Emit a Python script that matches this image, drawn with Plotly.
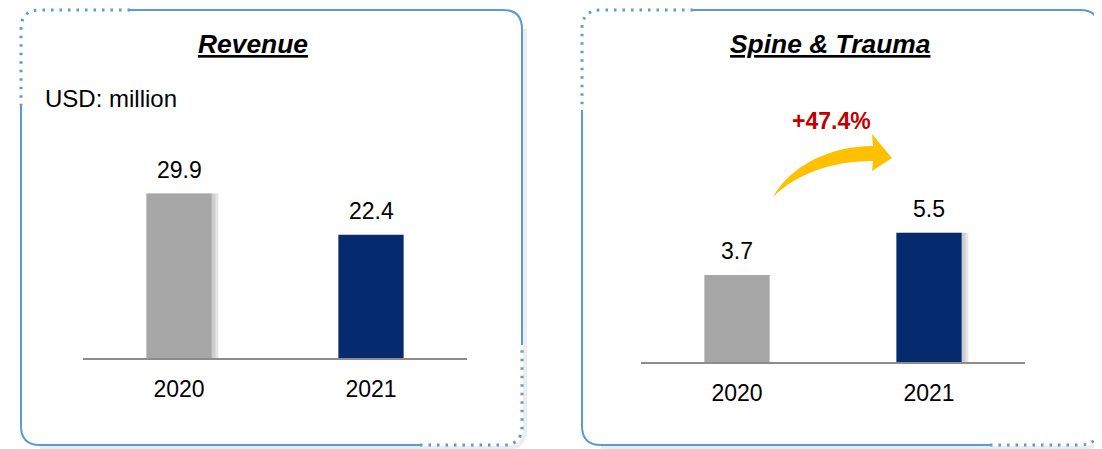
import plotly.graph_objects as go

# ---- data ----
years = ["2020", "2021"]
revenue = [29.9, 22.4]
spine_trauma = [3.7, 5.5]
bar_colors = ["#A6A6A6", "#052A6E"]
growth_label = "+47.4%"
titles = ["Revenue", "Spine & Trauma"]
unit_label = "USD: million"

# page body has an 8px default margin; size the figure to fill the rest of the window
OFF = 8
W, H = 1102 - OFF, 449 - OFF
FONT = "Liberation Sans, Arial, sans-serif"


def px(x):
    return (x - OFF) / W


def py(y):
    return 1 - (y - OFF) / H


def path(cmds):
    out = []
    for c in cmds:
        if c[0] == "Q":
            out.append("Q%.5f,%.5f %.5f,%.5f" % (px(c[1]), py(c[2]), px(c[3]), py(c[4])))
        elif c[0] == "C":
            out.append("C%.5f,%.5f %.5f,%.5f %.5f,%.5f" % (px(c[1]), py(c[2]), px(c[3]), py(c[4]), px(c[5]), py(c[6])))
        elif c[0] == "Z":
            out.append("Z")
        else:
            out.append("%s%.5f,%.5f" % (c[0], px(c[1]), py(c[2])))
    return " ".join(out)


fig = go.Figure()

# soft drop shadows (2020 bar on the left panel, 2021 bar on the right panel)
shadow_left = ["rgba(0,0,0,0.10)", "rgba(0,0,0,0)"]
shadow_right = ["rgba(0,0,0,0)", "rgba(0,0,0,0.10)"]
for k, (xa, ya, vals, sc) in enumerate((("x", "y", revenue, shadow_left), ("x2", "y2", spine_trauma, shadow_right))):
    for sh in (0.02, 0.035):
        fig.add_trace(go.Bar(x=years, y=vals, marker=dict(color=sc, line=dict(width=0)),
                             width=0.34, offset=-0.17 + sh, xaxis=xa, yaxis=ya,
                             showlegend=False, hoverinfo="skip"))

fig.add_trace(go.Bar(x=years, y=revenue, marker=dict(color=bar_colors, line=dict(width=0)),
                     width=0.34, offset=-0.17, xaxis="x", yaxis="y", showlegend=False, hoverinfo="skip"))
fig.add_trace(go.Bar(x=years, y=spine_trauma, marker=dict(color=bar_colors, line=dict(width=0)),
                     width=0.34, offset=-0.17, xaxis="x2", yaxis="y2", showlegend=False, hoverinfo="skip"))

axis_common = dict(showgrid=False, zeroline=False, fixedrange=True, automargin=False)
xcommon = dict(type="category", range=[-0.5, 1.5], showline=True, linecolor="#8C8C8C", linewidth=2,
               ticks="", tickfont=dict(size=23, color="#000"), ticklabelstandoff=9, **axis_common)
fig.update_layout(
    width=W, height=H, autosize=False, barmode="overlay",
    margin=dict(l=0, r=0, t=0, b=0, pad=0, autoexpand=False),
    paper_bgcolor="white", plot_bgcolor="rgba(0,0,0,0)",
    font=dict(family=FONT, color="#000000"),
    xaxis=dict(domain=[px(83), px(467)], anchor="y", **xcommon),
    yaxis=dict(domain=[py(358), py(138)], anchor="x", range=[0, 40], visible=False, **axis_common),
    xaxis2=dict(domain=[px(641), px(1025)], anchor="y2", **xcommon),
    yaxis2=dict(domain=[py(362), py(127)], anchor="x2", range=[0, 10], visible=False, **axis_common),
)

annotations = []
for xr, yr, vals in (("x", "y", revenue), ("x2", "y2", spine_trauma)):
    for i, v in enumerate(vals):
        annotations.append(dict(x=i, y=v, xref=xr, yref=yr, text="%.1f" % v, showarrow=False,
                                yanchor="bottom", yshift=9, font=dict(size=23, color="#000")))

annotations.append(dict(x=px(253), y=py(44), xref="paper", yref="paper", text="<b><i><u>%s</u></i></b>" % titles[0],
                        showarrow=False, xanchor="center", yanchor="middle", font=dict(size=26.4, color="#000")))
annotations.append(dict(x=px(830), y=py(44), xref="paper", yref="paper", text="<b><i><u>%s</u></i></b>" % titles[1],
                        showarrow=False, xanchor="center", yanchor="middle", font=dict(size=26.4, color="#000")))
annotations.append(dict(x=px(43), y=py(98), xref="paper", yref="paper", text=unit_label,
                        showarrow=False, xanchor="left", yanchor="middle", font=dict(size=24, color="#000")))
annotations.append(dict(x=px(831), y=py(121), xref="paper", yref="paper", text="<b>%s</b>" % growth_label,
                        showarrow=False, xanchor="center", yanchor="middle", font=dict(size=23, color="#C00000")))
fig.update_layout(annotations=annotations)

shapes = []
BLUE = "#5B9BD5"
SHADOW = "rgba(0,0,0,0.07)"


def panel(L, R, T, B, r, top_dot_x, left_dot_y, right_dot_y, bot_dot_x):
    s = []
    o = 3
    s.append(dict(type="path", xref="paper", yref="paper", layer="below",
                  path=path([("M", R + o, T + r), ("L", R + o, B - r + o), ("Q", R + o, B + o, R - r + o, B + o),
                             ("L", L + r, B + o)]),
                  line=dict(color=SHADOW, width=4)))
    dot = dict(color=BLUE, width=3, dash="2.5px,6px")
    solid = dict(color=BLUE, width=2)
    s.append(dict(type="path", xref="paper", yref="paper",
                  path=path([("M", top_dot_x, T), ("L", L + r, T), ("Q", L, T, L, T + r), ("L", L, left_dot_y)]),
                  line=dot))
    s.append(dict(type="path", xref="paper", yref="paper",
                  path=path([("M", L, left_dot_y), ("L", L, B - r), ("Q", L, B, L + r, B), ("L", bot_dot_x, B)]),
                  line=solid))
    s.append(dict(type="path", xref="paper", yref="paper",
                  path=path([("M", bot_dot_x, B), ("L", R - r, B), ("Q", R, B, R, B - r), ("L", R, right_dot_y)]),
                  line=dot))
    s.append(dict(type="path", xref="paper", yref="paper",
                  path=path([("M", R, right_dot_y), ("L", R, T + r), ("Q", R, T, R - r, T), ("L", top_dot_x, T)]),
                  line=solid))
    return s


shapes += panel(21, 522, 10, 445, 19, 130, 105, 345, 420)
shapes += panel(582, 1099, 10, 445, 19, 693, 110, 378, 990)

# curved growth arrow
shapes.append(dict(type="path", xref="paper", yref="paper",
                   path=path([("M", 773, 197), ("C", 790, 166, 830, 146, 873, 146), ("L", 872, 134), ("L", 892, 158),
                              ("L", 872, 171), ("L", 873, 161), ("C", 830, 161, 795, 175, 773, 197), ("Z",)]),
                   fillcolor="#FFC000", line=dict(width=0)))
fig.update_layout(shapes=shapes)

fig.write_html("out.html")
